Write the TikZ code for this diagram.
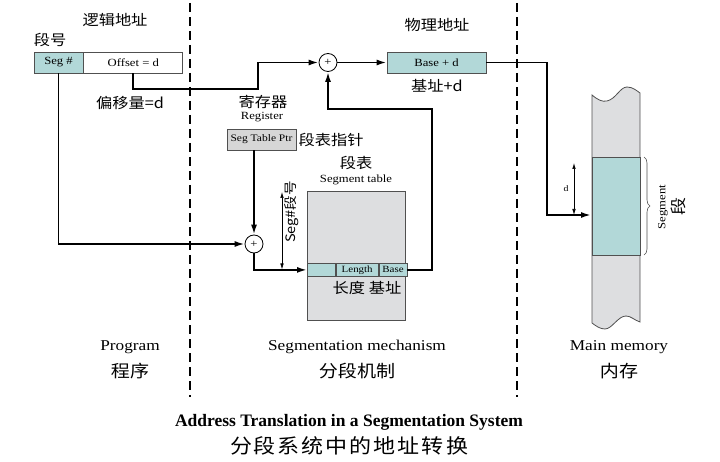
\documentclass[tikz,border=0pt]{standalone}
\usepackage{fontspec}
\setmainfont{Liberation Serif}[FakeStretch=1.15]
\newfontfamily\titlefont{Liberation Serif}
\newfontfamily\cjk{Noto Sans CJK SC}[FakeStretch=1.12]
\newfontfamily\cjktitle{Noto Sans CJK SC}[FakeStretch=1.1,LetterSpace=10]
\usetikzlibrary{positioning,calc,arrows.meta,decorations.pathreplacing}
\definecolor{segteal}{RGB}{178,216,216}
\definecolor{tablegray}{RGB}{221,222,224}
\definecolor{reggray}{RGB}{214,214,214}
\definecolor{edgegray}{RGB}{80,80,80}
\tikzstyle{box} = [rectangle, draw=edgegray, line width=0.8pt, inner sep=0pt, minimum height=21pt, text centered, font=\fontsize{11}{13}\selectfont]
\tikzstyle{addr} = [box, fill=segteal]
\tikzstyle{cell} = [box, fill=segteal, minimum height=13pt, font=\fontsize{9.5}{11}\selectfont]
\tikzstyle{adder} = [circle, draw=black, line width=0.8pt, fill=white, minimum size=18pt, inner sep=0pt, font=\fontsize{11}{13}\selectfont]
\tikzstyle{arrow} = [line width=1.8pt, -{Latex[length=10pt,width=6pt]}]
\tikzstyle{dim} = [line width=0.6pt, {Latex[length=6pt,width=3.5pt]}-{Latex[length=6pt,width=3.5pt]}]
\tikzstyle{cn} = [inner sep=1pt, font=\cjk\fontsize{14.5}{16}\selectfont]
\tikzstyle{cnbig} = [inner sep=1pt, font=\cjk\fontsize{17}{19}\selectfont]
\tikzstyle{en} = [inner sep=1pt, font=\fontsize{11}{13}\selectfont]
\tikzstyle{enbig} = [inner sep=1pt, font=\fontsize{15}{17}\selectfont]

\begin{document}
\begin{tikzpicture}[x=1pt,y=-1pt]
	\useasboundingbox (0,0) rectangle (720,462);
	\foreach \x in {190,517}
	\draw [line width=2.6pt, dash pattern=on 9pt off 5pt] (\x,3) -- (\x,397);
	% logical address
	\node[addr, minimum width=49pt] (segno) at (58.5,62.5) {Seg \#};
	\node[box, fill=white, minimum width=99pt, right=0pt of segno] (offset) {Offset = d};
	\node[cn] (logaddr) at (115,20) {逻辑地址};
	\node[cn] (segnocn) at (50,40) {段号};
	\node[cn] (offsetcn) at (130,103) {偏移量=d};
	% register
	\node[box, fill=reggray, minimum width=69pt, font=\fontsize{10}{12}\selectfont] (reg) at (261.5,139.5) {Seg Table Ptr};
	\node[en] (regen) at (262,117) {Register};
	\node[cn] (regcn) at (263,102) {寄存器};
	\node[cn, right=1pt of reg] (regptr) {段表指针};
	% adders
	\node[adder] (sum1) at (328,62.5) {+};
	\node[adder] (sum2) at (254,244) {+};
	% physical address
	\node[addr, minimum width=99pt] (phys) at (436.5,62.5) {Base + d};
	\node[cn] (physcn) at (437,25) {物理地址};
	\node[cn] (basecn) at (437,86) {基址+d};
	% segment table
	\node[box, fill=tablegray, minimum width=98pt, minimum height=129pt] (table) at (356,255.5) {};
	\node[cell, minimum width=28pt, anchor=north west] (rowa) at (307,263) {};
	\node[cell, minimum width=42pt, right=0pt of rowa] (len) {Length};
	\node[cell, minimum width=28pt, right=0pt of len] (base) {Base};
	\node[cn] (tabcn) at (356,163) {段表};
	\node[en] (taben) at (356,180) {Segment table};
	\node[cn] (lenbase) at (367,288) {长度 基址};
	\draw[dim] (282,192) -- (282,269.5);
	\node[rotate=90, inner sep=1pt, font=\cjk\fontsize{13}{15}\selectfont] (segnolbl) at (292,212) {Seg\#段号};
	% main memory
	\filldraw[fill=tablegray, draw=edgegray, line width=0.8pt]
		(592,95) .. controls (598,100) and (602,102) .. (607,101)
		.. controls (616,99) and (620,87) .. (627,87)
		.. controls (633,87) and (637,91) .. (640,93) -- (640,322)
		.. controls (634,320) and (631,316) .. (626,316)
		.. controls (618,316) and (612,329) .. (605,329)
		.. controls (600,329) and (596,326) .. (592,323) -- cycle;
	\node[box, fill=segteal, minimum width=48pt, minimum height=98pt, anchor=north west] (seg) at (592,157) {};
	\coordinate (hit) at (591,215);
	\draw[dim] (574,163) -- (574,215);
	\node[inner sep=1pt, font=\fontsize{8.5}{10}\selectfont] (dlbl) at (566,189) {d};
	\draw[decorate, decoration={brace, amplitude=6pt}, draw=edgegray, line width=0.6pt] (644,157) -- (644,255);
	\node[rotate=90, align=center, inner sep=1pt, font=\fontsize{11}{19}\selectfont] (seglbl) at (672,207) {Segment\\{\cjk\fontsize{16}{19}\selectfont 段}};
	% connectors
	\draw[arrow] (segno.south) |- (sum2.west);
	\draw[arrow] (offset.south) |- (258,89) |- (sum1.west);
	\draw[arrow] (sum1.east) -- (phys.west);
	\draw[arrow] (phys.east) -- (547,62.5) |- (hit);
	\draw[arrow] (sum2 |- reg.south) -- (sum2.north);
	\draw[arrow] (sum2.south) |- (rowa.west);
	\draw[arrow] (base.east) -| (432,109) -| (sum1.south);
	% bottom labels
	\node[enbig] (prog) at (130,347) {Program};
	\node[cnbig] (progcn) at (130,371) {程序};
	\node[enbig] (mech) at (357,347) {Segmentation mechanism};
	\node[cnbig] (mechcn) at (357,371) {分段机制};
	\node[enbig] (mem) at (619,347) {Main memory};
	\node[cnbig] (memcn) at (619,371) {内存};
	\node[inner sep=1pt, font=\titlefont\bfseries\fontsize{17.5}{20}\selectfont] (title) at (349,422) {Address Translation in a Segmentation System};
	\node[inner sep=1pt, font=\cjktitle\fontsize{20}{22}\selectfont] (titlecn) at (349,446) {分段系统中的地址转换};
\end{tikzpicture}
\end{document}
